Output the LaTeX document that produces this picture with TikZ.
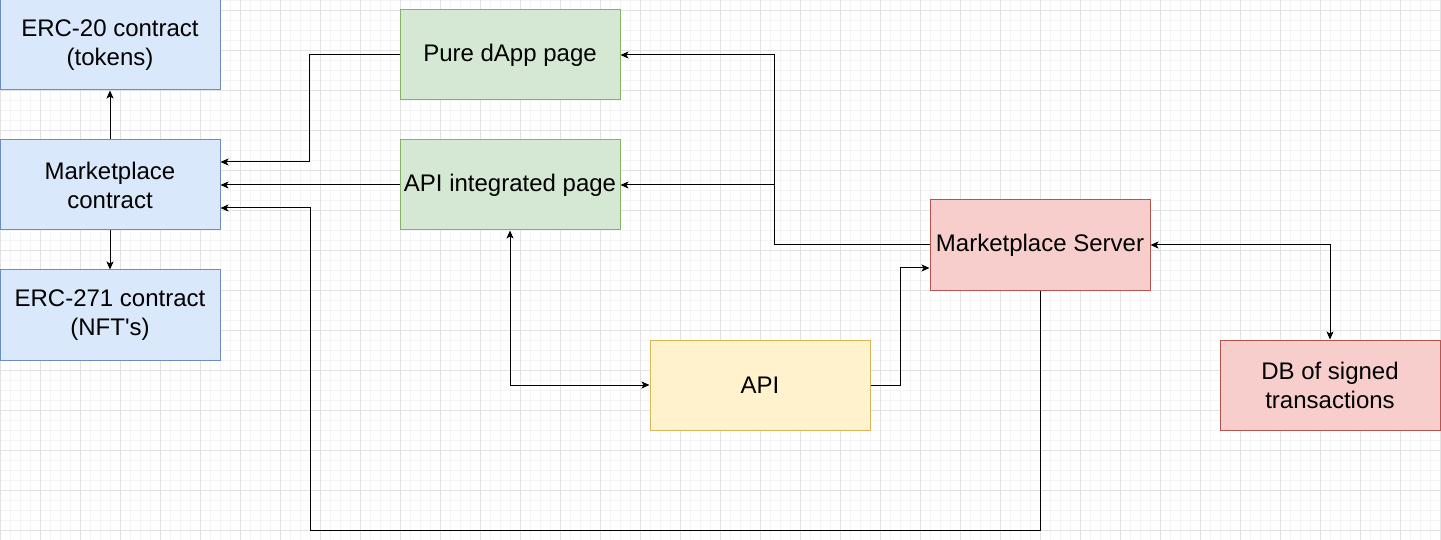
\documentclass[tikz,border=0pt]{standalone}
\usepackage{fontspec}
\setmainfont{Liberation Sans}
\usetikzlibrary{arrows.meta}
\definecolor{bluefill}{HTML}{DAE8FC}\definecolor{blueline}{HTML}{6C8EBF}
\definecolor{greenfill}{HTML}{D5E8D4}\definecolor{greenline}{HTML}{82B366}
\definecolor{redfill}{HTML}{F8CECC}\definecolor{redline}{HTML}{B85450}
\definecolor{yellowfill}{HTML}{FFF2CC}\definecolor{yellowline}{HTML}{D6B656}
\definecolor{gridminor}{HTML}{F4F4F4}\definecolor{gridmajor}{HTML}{E2E2E2}
\begin{document}
\begin{tikzpicture}[x=1pt,y=-1pt,
    box/.style={draw,line width=1pt,minimum width=220pt,minimum height=90pt,inner sep=0pt,
        align=center,font=\fontsize{24}{29}\selectfont},
    contract/.style={box,fill=bluefill,draw=blueline},
    page/.style={box,fill=greenfill,draw=greenline},
    serv/.style={box,fill=redfill,draw=redline},
    apibox/.style={box,fill=yellowfill,draw=yellowline},
    link/.style={line width=1pt,-{Stealth[length=8pt,width=7pt,inset=2pt]}},
    dlink/.style={line width=1pt,{Stealth[length=8pt,width=7pt,inset=2pt]}-{Stealth[length=8pt,width=7pt,inset=2pt]}}]
    \useasboundingbox (0,0) rectangle (1441,540);
    \fill[white] (0,0) rectangle (1441,540);
    \foreach \x in {0,10,...,1440} \draw[gridminor] (\x,0) -- (\x,540);
    \foreach \y in {0,10,...,540} \draw[gridminor] (0,\y) -- (1441,\y);
    \foreach \x in {0,40,...,1440} \draw[gridmajor] (\x,0) -- (\x,540);
    \foreach \y in {10,50,...,530} \draw[gridmajor] (0,\y) -- (1441,\y);
    \node[contract] (erc20) at (110,45) {ERC-20 contract\\(tokens)};
    \node[contract] (market) at (110,185) {Marketplace\\contract};
    \node[contract] (erc271) at (110,315) {ERC-271 contract\\(NFT\textquotesingle s)};
    \node[page] (pure) at (510,55) {Pure dApp page};
    \node[page] (apipage) at (510,185) {API integrated page};
    \node[serv] (server) at (1040,245) {Marketplace Server};
    \node[apibox] (api) at (760,385) {API};
    \node[serv] (db) at (1330,385) {DB of signed\\transactions};
    \draw[link] (market) -- (erc20);
    \draw[link] (market) -- (erc271);
    \draw[link] (pure.west) -- ++(-90,0) |- ([yshift=23pt]market.east);
    \draw[link] (apipage.west) -- (market.east);
    \draw[link] (server.south) -- ++(0,240) -- ++(-730,0) |- ([yshift=-23pt]market.east);
    \draw[link] (server.west) -- ++(-155,0) coordinate (split) |- (pure.east);
    \draw[link] (split) |- (apipage.east);
    \draw[dlink] (apipage.south) |- (api.west);
    \draw[link] (api.east) -- ++(30,0) |- ([yshift=-23pt]server.west);
    \draw[dlink] (server.east) -| (db.north);
\end{tikzpicture}
\end{document}
